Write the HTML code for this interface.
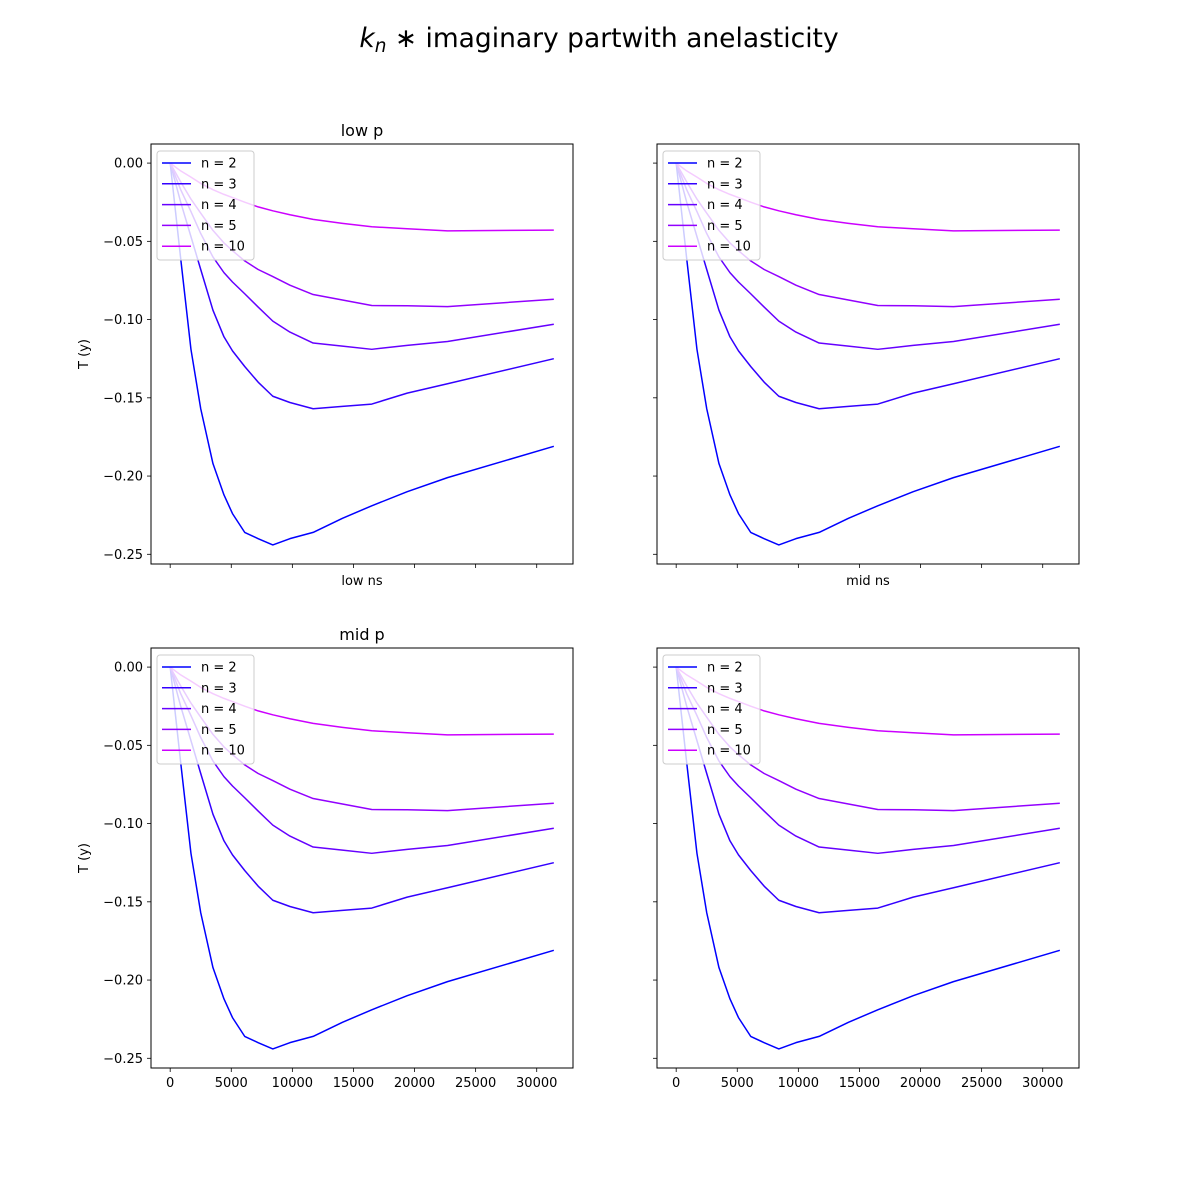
<!DOCTYPE html>
<html><head><meta charset="utf-8"><style>
body{margin:0;background:#fff;}
svg{display:block;font-family:"DejaVu Sans","Liberation Sans",sans-serif;}
</style></head><body>
<svg id="fig" width="1200" height="1200" viewBox="0 0 1200 1200" xmlns="http://www.w3.org/2000/svg">
<rect width="1200" height="1200" fill="#fff"/>
<text x="599" y="47" text-anchor="middle" font-size="26.5"><tspan font-style="italic">k</tspan><tspan font-style="italic" font-size="18.5" dy="5">n</tspan><tspan dy="-5"> ∗  imaginary partwith anelasticity</tspan></text>
</svg>
<script>
const xs = [0, 860, 1700, 2500, 3500, 4400, 5100, 6100, 7200, 8400, 9800, 11700, 14100, 16500, 19400, 22700, 31400];
const seriesLabels = ["n = 2", "n = 3", "n = 4", "n = 5", "n = 10"];
const n2 = [0, -0.061, -0.119, -0.157, -0.192, -0.212, -0.224, -0.236, -0.240, -0.244, -0.240, -0.236, -0.227, -0.219, -0.210, -0.201, -0.181];
const n3 = [0, -0.025, -0.047, -0.068, -0.094, -0.111, -0.120, -0.130, -0.140, -0.149, -0.153, -0.157, -0.1555, -0.154, -0.147, -0.141, -0.125];
const n4 = [0, -0.017, -0.031, -0.045, -0.060, -0.070, -0.076, -0.0835, -0.092, -0.101, -0.108, -0.115, -0.117, -0.119, -0.1165, -0.114, -0.103];
const n5 = [0, -0.012, -0.023, -0.032, -0.043, -0.051, -0.056, -0.0625, -0.068, -0.0725, -0.078, -0.084, -0.0875, -0.091, -0.0912, -0.0917, -0.087];
const n10 = [0, -0.005, -0.009, -0.013, -0.017, -0.020, -0.022, -0.025, -0.028, -0.0305, -0.033, -0.036, -0.0385, -0.0407, -0.042, -0.0433, -0.0428];
const xTicks = [0, 5000, 10000, 15000, 20000, 25000, 30000];
const yTicks = [0, -0.05, -0.10, -0.15, -0.20, -0.25];
const yTickLabels = ["0.00", "−0.05", "−0.10", "−0.15", "−0.20", "−0.25"];
const colors = ["#0000ff", "#3300ff", "#6600ff", "#9200ff", "#cc00ff"];
const allSeries = [n2, n3, n4, n5, n10];

const NS = "http://www.w3.org/2000/svg";
const fig = document.getElementById("fig");
function mk(tag, attrs, parent) {
  const e = document.createElementNS(NS, tag);
  for (const k in attrs) e.setAttribute(k, attrs[k]);
  (parent || fig).appendChild(e);
  return e;
}
const panels = [
  {x0:151, y0:144, key:"top-left", title:"low p", xlabel:"low ns", ylab:true, xtl:false},
  {x0:657, y0:144, key:"top-right", title:null, xlabel:"mid ns", ylab:false, xtl:false},
  {x0:151, y0:648, key:"bottom-left", title:"mid p", xlabel:null, ylab:true, xtl:true},
  {x0:657, y0:648, key:"bottom-right", title:null, xlabel:null, ylab:false, xtl:true}
];
const W = 422, H = 420;
let xmin = Math.min(...xs), xmax = Math.max(...xs);
let allY = [].concat(...allSeries);
let ymin = Math.min(...allY), ymax = Math.max(...allY);
const xpad = (xmax - xmin) * 0.05, ypad = (ymax - ymin) * 0.05;
const xlo = xmin - xpad, xhi = xmax + xpad, ylo = ymin - ypad, yhi = ymax + ypad;

panels.forEach(p => {
  const g = mk("g", {});
  
  
  const sx = v => p.x0 + (v - xlo) / (xhi - xlo) * W;
  const sy = v => p.y0 + (yhi - v) / (yhi - ylo) * H;
  allSeries.forEach((s, i) => {
    const d = s.map((v, j) => (j ? "L" : "M") + sx(xs[j]).toFixed(2) + "," + sy(v).toFixed(2)).join("");
    const path = mk("path", {d: d, fill: "none", stroke: colors[i], "stroke-width": 1.5, "stroke-linejoin": "round"}, g);
    
    
  });
  const frame = mk("rect", {x: p.x0, y: p.y0, width: W, height: H, fill: "none", stroke: "#000", "stroke-width": 1}, g);
  
  
  xTicks.forEach(t => {
    const x = sx(t);
    mk("line", {x1: x, x2: x, y1: p.y0 + H, y2: p.y0 + H + 4, stroke: "#000", "stroke-width": 0.8}, g);
    if (p.xtl) {
      const tx = mk("text", {x: x, y: p.y0 + H + 19, "text-anchor": "middle", "font-size": 13}, g);
      
      
      tx.textContent = String(t);
    }
  });
  yTicks.forEach((t, i) => {
    const y = sy(t);
    mk("line", {x1: p.x0 - 4, x2: p.x0, y1: y, y2: y, stroke: "#000", "stroke-width": 0.8}, g);
    if (p.ylab) {
      const ty = mk("text", {x: p.x0 - 8, y: y + 4.5, "text-anchor": "end", "font-size": 13}, g);
      
      
      ty.textContent = yTickLabels[i];
    }
  });
  if (p.title) {
    const tt = mk("text", {x: p.x0 + W / 2, y: p.y0 - 8, "text-anchor": "middle", "font-size": 16}, g);
    
    
    tt.textContent = p.title;
  }
  if (p.xlabel) {
    const xl = mk("text", {x: p.x0 + W / 2, y: p.y0 + H + 21, "text-anchor": "middle", "font-size": 13}, g);
    
    
    xl.textContent = p.xlabel;
  }
  if (p.ylab) {
    const yl = mk("text", {x: 0, y: 0, "text-anchor": "middle", "font-size": 13, transform: "translate(88," + (p.y0 + H / 2) + ") rotate(-90)"}, g);
    
    
    yl.textContent = "T (y)";
  }
  const lg = mk("g", {}, g);
  
  
  mk("rect", {x: p.x0 + 6, y: p.y0 + 7, width: 97, height: 109, rx: 3, fill: "rgba(255,255,255,0.8)", stroke: "#ccc", "stroke-width": 1}, lg);
  seriesLabels.forEach((lab, i) => {
    const y = p.y0 + 19 + i * 20.8;
    const e = mk("g", {}, lg);
    
    
    mk("line", {x1: p.x0 + 11, x2: p.x0 + 40, y1: y, y2: y, stroke: colors[i], "stroke-width": 1.5}, e);
    const t = mk("text", {x: p.x0 + 50, y: y + 4.5, "font-size": 13}, e);
    t.textContent = lab;
  });
});
</script>
</body></html>
